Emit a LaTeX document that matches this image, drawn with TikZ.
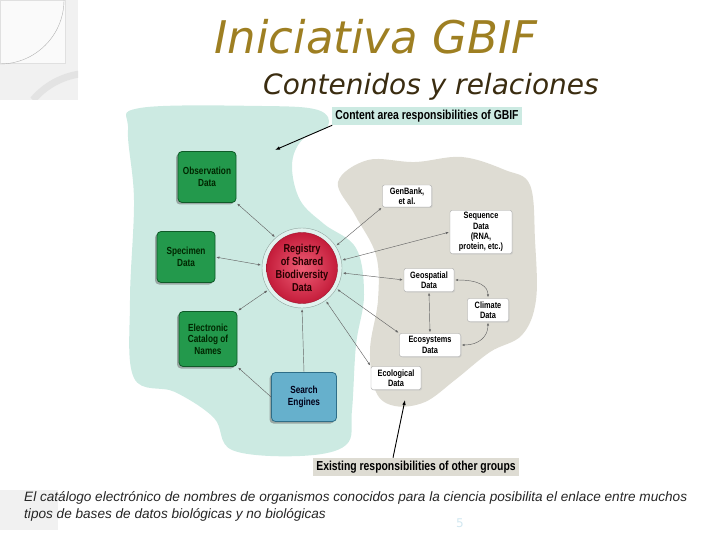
\documentclass[tikz,border=0pt]{standalone}
\usepackage{fontspec}
\setmainfont{DejaVu Sans}
\newfontfamily\diagfont[FakeStretch=0.8]{Liberation Sans}
\newfontfamily\notefont{Liberation Sans}
\usetikzlibrary{arrows.meta,positioning,shadows}
\definecolor{gold}{HTML}{9E7F22}
\definecolor{umber}{HTML}{3A2C10}
\definecolor{mint}{HTML}{CCEAE2}
\definecolor{stone}{HTML}{DEDCD3}
\definecolor{leaf}{HTML}{23994C}
\definecolor{forest}{HTML}{0F5A28}
\definecolor{sky}{HTML}{66B0CC}
\definecolor{deepsky}{HTML}{2E6E88}
\definecolor{rose}{HTML}{EE5E76}
\definecolor{crimson}{HTML}{C41C3A}
\definecolor{deco}{HTML}{F1F1F1}
\tikzset{box/.style={rounded corners=4pt,align=center,font=\diagfont\bfseries\fontsize{10.3}{11.5}\selectfont,inner sep=2pt},greenbox/.style={box,fill=leaf,draw=forest,line width=.8pt,text=black!85!green,minimum width=58pt,minimum height=51pt,drop shadow={shadow xshift=-2pt,shadow yshift=-2pt,fill=black!60}},bluebox/.style={greenbox,fill=sky,draw=deepsky,text=black!90!blue,minimum width=65pt,minimum height=49pt},whitebox/.style={box,rounded corners=2pt,fill=white,draw=black!35,line width=.4pt,font=\diagfont\bfseries\fontsize{9.2}{10.3}\selectfont,inner sep=1pt,minimum height=23pt,drop shadow={shadow xshift=1pt,shadow yshift=-1pt,fill=black!25}},tag/.style={font=\diagfont\bfseries\fontsize{13}{15}\selectfont,inner sep=3pt},link/.style={{Latex[length=3pt,width=2.4pt]}-{Latex[length=3pt,width=2.4pt]},draw=black!60,line width=.45pt,shorten <=1pt,shorten >=1pt},onelink/.style={-{Latex[length=3pt,width=2.4pt]},draw=black!60,line width=.45pt,shorten >=1pt},callout/.style={-{Latex[length=5pt,width=3.6pt]},draw=black,line width=.9pt}}

\begin{document}
\begin{tikzpicture}[x=1pt,y=-1pt]
\useasboundingbox (0,0) rectangle (720,540);
% slide decoration
\fill[deco] (0,0) rectangle (78,100);
\fill[black!2,draw=black!12,line width=.4pt] (0,0) rectangle (65,63);
\draw[black!30,line width=.4pt] (64,0) arc[start angle=0,end angle=90,radius=64];
\begin{scope}
\clip (0,0) rectangle (78,100);
\draw[black!11,line width=7pt] (33,100) arc[start angle=220,end angle=262,radius=75];
\end{scope}
\fill[deco] (0,490) rectangle (58,530);
% titles
\node[font=\fontsize{45}{50}\selectfont\itshape,text=gold] (title) at (376,37) {Iniciativa GBIF};
\node[font=\fontsize{28}{32}\selectfont\itshape,text=umber] (subtitle) at (431,87) {Contenidos y relaciones};
% content areas
\fill[mint] plot[smooth cycle,tension=0.6] coordinates {(140,108) (262,106) (318,110) (328,126) (302,140) (292,165) (300,200) (324,224) (356,248) (364,295) (356,345) (352,410) (346,445) (300,456) (232,450) (214,418) (175,392) (134,378) (130,300) (134,200) (128,130)};
\fill[stone] plot[smooth cycle,tension=0.6] coordinates {(338,182) (368,160) (415,162) (462,157) (505,170) (530,185) (535,240) (536,300) (522,335) (490,352) (455,380) (425,402) (395,406) (376,392) (370,350) (378,300) (376,255) (355,215)};
\node[tag,fill=mint] (gbif) at (427,116) {Content area responsibilities of GBIF};
\node[tag,fill=stone] (others) at (416,467) {Existing responsibilities of other groups};
\coordinate (gbifpt) at (275,150);
\coordinate (otherpt) at (405,400);
\draw[callout] (gbif.south west) -- (gbifpt);
\draw[callout] (others.158) -- (otherpt);
% GBIF side
\node[circle,minimum size=80pt,fill=mint!60!white,draw=mint!70!black,line width=.4pt] (ring) at (302,268) {};
\node[circle,minimum size=66pt,inner sep=0pt,inner color=rose,outer color=crimson,draw=crimson!80!black,line width=.4pt,align=center,font=\diagfont\bfseries\fontsize{11.5}{13}\selectfont,text=black!85!red] (reg) at (302,268) {Registry\\of Shared\\Biodiversity\\Data};
\node[greenbox] (obs) at (207,177) {Observation\\Data};
\node[greenbox] (spec) at (186,257) {Specimen\\Data};
\node[greenbox,minimum height=55pt] (ecat) at (208,339) {Electronic\\Catalog of\\Names};
\node[bluebox] (search) at (304,397) {Search\\Engines};
% other groups
\node[whitebox,minimum width=49pt,minimum height=22pt] (genbank) at (407,196) {GenBank,\\et al.};
\node[whitebox,minimum width=62pt,minimum height=43pt] (seq) at (481,232) {Sequence\\Data\\(RNA,\\protein, etc.)};
\node[whitebox,minimum width=50pt] (geo) at (429,280) {Geospatial\\Data};
\node[whitebox,minimum width=41pt] (clim) at (488,310) {Climate\\Data};
\node[whitebox,minimum width=61pt] (eco) at (430,345) {Ecosystems\\Data};
\node[whitebox,minimum width=50pt] (ecol) at (396,378) {Ecological\\Data};
% links
\draw[link] (obs.south east) -- (ring.131);
\draw[link] (spec.east) -- (ring.176);
\draw[link] (ecat.north east) -- (ring.213);
\draw[onelink] (search.north) -- (ring.270);
\draw[onelink] (search.west) -- (ecat.south east);
\draw[link] (ring.33) -- (genbank.south west);
\draw[link] (ring.11) -- (seq.west);
\draw[link] (ring.353) -- (geo.west);
\draw[link] (ring.329) -- (eco.north west);
\draw[link] (ring.306) -- (ecol.north west);
\draw[link] (geo.south) -- (eco.north);
\draw[link] (geo.east) .. controls +(25,0) and +(0,-12) .. (clim.north);
\draw[link] (clim.south) .. controls +(0,15) and +(18,0) .. (eco.east);
% caption
\node[anchor=north west,align=left,inner sep=0pt,font=\notefont\itshape\fontsize{13.6}{17}\selectfont,text=black!85] (caption) at (24,491) {El catálogo electrónico de nombres de organismos conocidos para la ciencia posibilita el enlace entre muchos\\tipos de bases de datos biológicas y no biológicas};
\node[font=\fontsize{12}{14}\selectfont,text=sky!30!white] (pagenum) at (460,523) {5};
\end{tikzpicture}
\end{document}
